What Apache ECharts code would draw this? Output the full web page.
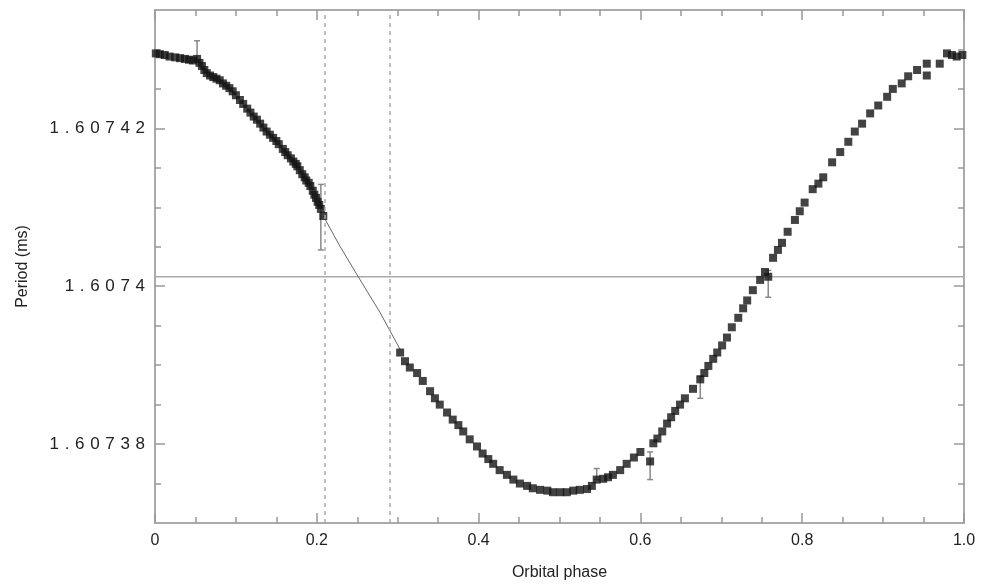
<!DOCTYPE html>
<html>
<head>
<meta charset="utf-8">
<script src="https://cdn.jsdelivr.net/npm/echarts@6/dist/echarts.min.js"></script>
<style>
  html, body { margin: 0; padding: 0; background: #fff; }
  #chart { width: 984px; height: 586px; }
</style>
</head>
<body>
<div id="chart"></div>
<script>
// measured timing points, phase 0 - 0.21 (dense band)
var leftPhase = [0.001, 0.006, 0.012, 0.018, 0.025, 0.031, 0.037, 0.042, 0.047, 0.052,
  0.055, 0.058, 0.061, 0.064, 0.068, 0.072, 0.076, 0.080, 0.084, 0.088,
  0.092, 0.096, 0.100, 0.105, 0.109, 0.114, 0.118, 0.122, 0.126, 0.130,
  0.134, 0.138, 0.142, 0.146, 0.150, 0.153, 0.158, 0.161, 0.164, 0.168,
  0.171, 0.174, 0.176, 0.179, 0.182, 0.185, 0.187, 0.190, 0.192, 0.195,
  0.197, 0.199, 0.201, 0.203, 0.205, 0.208];
var leftPeriod = [1.6074295, 1.6074294, 1.6074293, 1.6074291, 1.6074290, 1.6074289, 1.6074288, 1.6074287, 1.6074286, 1.6074288,
  1.6074283, 1.6074279, 1.6074274, 1.6074270, 1.6074267, 1.6074265, 1.6074263, 1.6074261, 1.6074257, 1.6074254,
  1.6074251, 1.6074247, 1.6074242, 1.6074236, 1.6074231, 1.6074225, 1.6074220, 1.6074215, 1.6074211, 1.6074206,
  1.6074201, 1.6074196, 1.6074192, 1.6074188, 1.6074184, 1.6074180, 1.6074174, 1.6074170, 1.6074166, 1.6074162,
  1.6074158, 1.6074155, 1.6074152, 1.6074147, 1.6074142, 1.6074138, 1.6074134, 1.6074131, 1.6074127, 1.6074121,
  1.6074116, 1.6074112, 1.6074107, 1.6074103, 1.6074098, 1.6074089];

// phase 0.30 - 1.0
var rightPhase = [0.303, 0.309, 0.315, 0.324, 0.331, 0.340, 0.346, 0.352, 0.361, 0.368,
  0.375, 0.381, 0.389, 0.398, 0.405, 0.412, 0.418, 0.426, 0.435, 0.443,
  0.451, 0.460, 0.467, 0.476, 0.485, 0.492, 0.501, 0.509, 0.517, 0.525,
  0.534, 0.540, 0.546, 0.554, 0.560, 0.566, 0.575, 0.583, 0.592, 0.600,
  0.612, 0.616, 0.621, 0.627, 0.633, 0.638, 0.643, 0.649, 0.655, 0.665,
  0.674, 0.679, 0.684, 0.690, 0.695, 0.701, 0.707, 0.713, 0.721, 0.727,
  0.732, 0.739, 0.748, 0.754, 0.758, 0.764, 0.770, 0.775, 0.782, 0.791,
  0.797, 0.803, 0.813, 0.820, 0.826, 0.837, 0.847, 0.857, 0.865, 0.874,
  0.884, 0.894, 0.905, 0.912, 0.923, 0.931, 0.942, 0.954, 0.954, 0.970,
  0.979, 0.985, 0.991, 0.998];
var rightPeriod = [1.6073916, 1.6073905, 1.6073897, 1.6073890, 1.6073880, 1.6073867, 1.6073858, 1.6073850, 1.6073840, 1.6073831,
  1.6073824, 1.6073816, 1.6073806, 1.6073797, 1.6073788, 1.6073781, 1.6073775, 1.6073767, 1.6073761, 1.6073755,
  1.6073750, 1.6073747, 1.6073744, 1.6073742, 1.6073741, 1.6073739, 1.6073739, 1.6073739, 1.6073741, 1.6073742,
  1.6073743, 1.6073747, 1.6073755, 1.6073756, 1.6073758, 1.6073761, 1.6073767, 1.6073775, 1.6073783, 1.6073790,
  1.6073778, 1.6073801, 1.6073807, 1.6073816, 1.6073826, 1.6073834, 1.6073842, 1.6073850, 1.6073858, 1.6073870,
  1.6073882, 1.6073890, 1.6073899, 1.6073908, 1.6073916, 1.6073925, 1.6073935, 1.6073948, 1.6073960, 1.6073972,
  1.6073982, 1.6073995, 1.6074008, 1.6074018, 1.6074012, 1.6074036, 1.6074046, 1.6074055, 1.6074069, 1.6074084,
  1.6074095, 1.6074106, 1.6074123, 1.6074130, 1.6074138, 1.6074157, 1.6074170, 1.6074183, 1.6074196, 1.6074206,
  1.6074219, 1.6074229, 1.6074240, 1.6074250, 1.6074257, 1.6074266, 1.6074274, 1.6074282, 1.6074267, 1.6074282,
  1.6074295, 1.6074293, 1.6074291, 1.6074293];

// error bars
var errPhase = [0.052, 0.205, 0.546, 0.612, 0.674, 0.758];
var errLow   = [1.6074286, 1.6074046, 1.6073755, 1.6073755, 1.6073858, 1.6073986];
var errHigh  = [1.6074311, 1.6074129, 1.6073769, 1.6073790, 1.6073886, 1.6074020];

// model line through the eclipse gap
var modelPhase  = [0.208, 0.229, 0.253, 0.278, 0.303];
var modelPeriod = [1.6074089, 1.6074050, 1.6074009, 1.6073967, 1.6073920];

var meanPeriod = 1.6074012;
var gapEdges = [0.214, 0.293];

var yTicks = [1.60738, 1.6074, 1.60742];
var yMinorTicks = [1.607375, 1.607385, 1.60739, 1.607395, 1.607405, 1.60741, 1.607415, 1.607425, 1.60743];

var points = [];
for (var i = 0; i < leftPhase.length; i++) points.push([leftPhase[i], leftPeriod[i]]);
for (var i = 0; i < rightPhase.length; i++) points.push([rightPhase[i], rightPeriod[i]]);

var errData = [];
for (var i = 0; i < errPhase.length; i++) errData.push([errPhase[i], errLow[i], errHigh[i]]);

var modelData = [];
for (var i = 0; i < modelPhase.length; i++) modelData.push([modelPhase[i], modelPeriod[i]]);

var axisGray = '#aaaaaa';
var textColor = '#222222';
var labelFont = 'Liberation Sans, Arial, sans-serif';

var chart = echarts.init(document.getElementById('chart'));

function xAxisDef(pos, showLabel) {
  return {
    type: 'value',
    position: pos,
    min: 0,
    max: 1,
    interval: 0.2,
    name: showLabel ? 'Orbital phase' : '',
    nameLocation: 'middle',
    nameGap: 42,
    nameTextStyle: { color: textColor, fontSize: 16, fontFamily: labelFont },
    axisLine: { show: true, lineStyle: { color: axisGray, width: 2 } },
    axisTick: { show: true, inside: true, length: 10, lineStyle: { color: '#999', width: 1.5 } },
    minorTick: { show: true, splitNumber: 4, length: 6, lineStyle: { color: '#999', width: 1.5 } },
    axisLabel: {
      show: showLabel,
      color: textColor,
      fontSize: 16,
      fontFamily: labelFont,
      margin: 10,
      formatter: function (v) { return v === 0 ? '0' : v.toFixed(1); }
    },
    splitLine: { show: false }
  };
}

// y labels in the original are widely spaced ("1. 6 0 7 4 2")
function spaced(v) {
  return String(parseFloat(v.toFixed(5))).split('').join('\u2004');
}

function yAxisDef(pos, showLabel, ticks, tickLen) {
  return {
    type: 'value',
    position: pos,
    min: 1.60737,
    max: 1.607435,
    name: showLabel ? 'Period (ms)' : '',
    nameLocation: 'middle',
    nameGap: 124,
    nameTextStyle: { color: textColor, fontSize: 16, fontFamily: labelFont },
    axisLine: { show: true, lineStyle: { color: axisGray, width: 2 } },
    axisTick: { show: true, inside: true, length: tickLen, customValues: ticks, lineStyle: { color: '#999', width: 1.5 } },
    axisLabel: {
      show: showLabel,
      customValues: yTicks,
      color: textColor,
      fontSize: 17,
      fontFamily: labelFont,
      margin: 10,
      formatter: spaced
    },
    splitLine: { show: false }
  };
}

var option = {
  backgroundColor: '#ffffff',
  animation: false,
  grid: { left: 155, right: 20, top: 10, bottom: 60 },
  xAxis: [xAxisDef('bottom', true), xAxisDef('top', false)],
  yAxis: [
    yAxisDef('left', true, yTicks, 10),
    yAxisDef('left', false, yMinorTicks, 6),
    yAxisDef('right', false, yTicks, 10),
    yAxisDef('right', false, yMinorTicks, 6)
  ],
  series: [
    {
      // mean period line
      type: 'line',
      data: [[0, meanPeriod], [1, meanPeriod]],
      symbol: 'none',
      lineStyle: { color: '#aaa', width: 1.5 },
      z: 0
    },
    {
      type: 'line',
      data: modelData,
      symbol: 'none',
      lineStyle: { color: '#666', width: 1 },
      z: 1,
      markLine: {
        silent: true,
        symbol: 'none',
        label: { show: false },
        data: [
          { xAxis: gapEdges[0], lineStyle: { color: '#aaa', width: 1.5, type: [4, 4] } },
          { xAxis: gapEdges[1], lineStyle: { color: '#aaa', width: 1.5, type: [4, 4] } }
        ]
      }
    },
    {
      type: 'custom',
      data: errData,
      z: 2,
      renderItem: function (params, api) {
        var x = api.value(0);
        var lo = api.coord([x, api.value(1)]);
        var hi = api.coord([x, api.value(2)]);
        var style = { stroke: '#888', lineWidth: 1.5 };
        return {
          type: 'group',
          children: [
            { type: 'line', shape: { x1: lo[0], y1: lo[1], x2: hi[0], y2: hi[1] }, style: style },
            { type: 'line', shape: { x1: lo[0] - 3, y1: lo[1], x2: lo[0] + 3, y2: lo[1] }, style: style },
            { type: 'line', shape: { x1: hi[0] - 3, y1: hi[1], x2: hi[0] + 3, y2: hi[1] }, style: style }
          ]
        };
      }
    },
    {
      type: 'scatter',
      data: points,
      symbol: 'rect',
      symbolSize: 8,
      itemStyle: { color: '#141414' },
      z: 3
    }
  ]
};

chart.setOption(option);
</script>
</body>
</html>
